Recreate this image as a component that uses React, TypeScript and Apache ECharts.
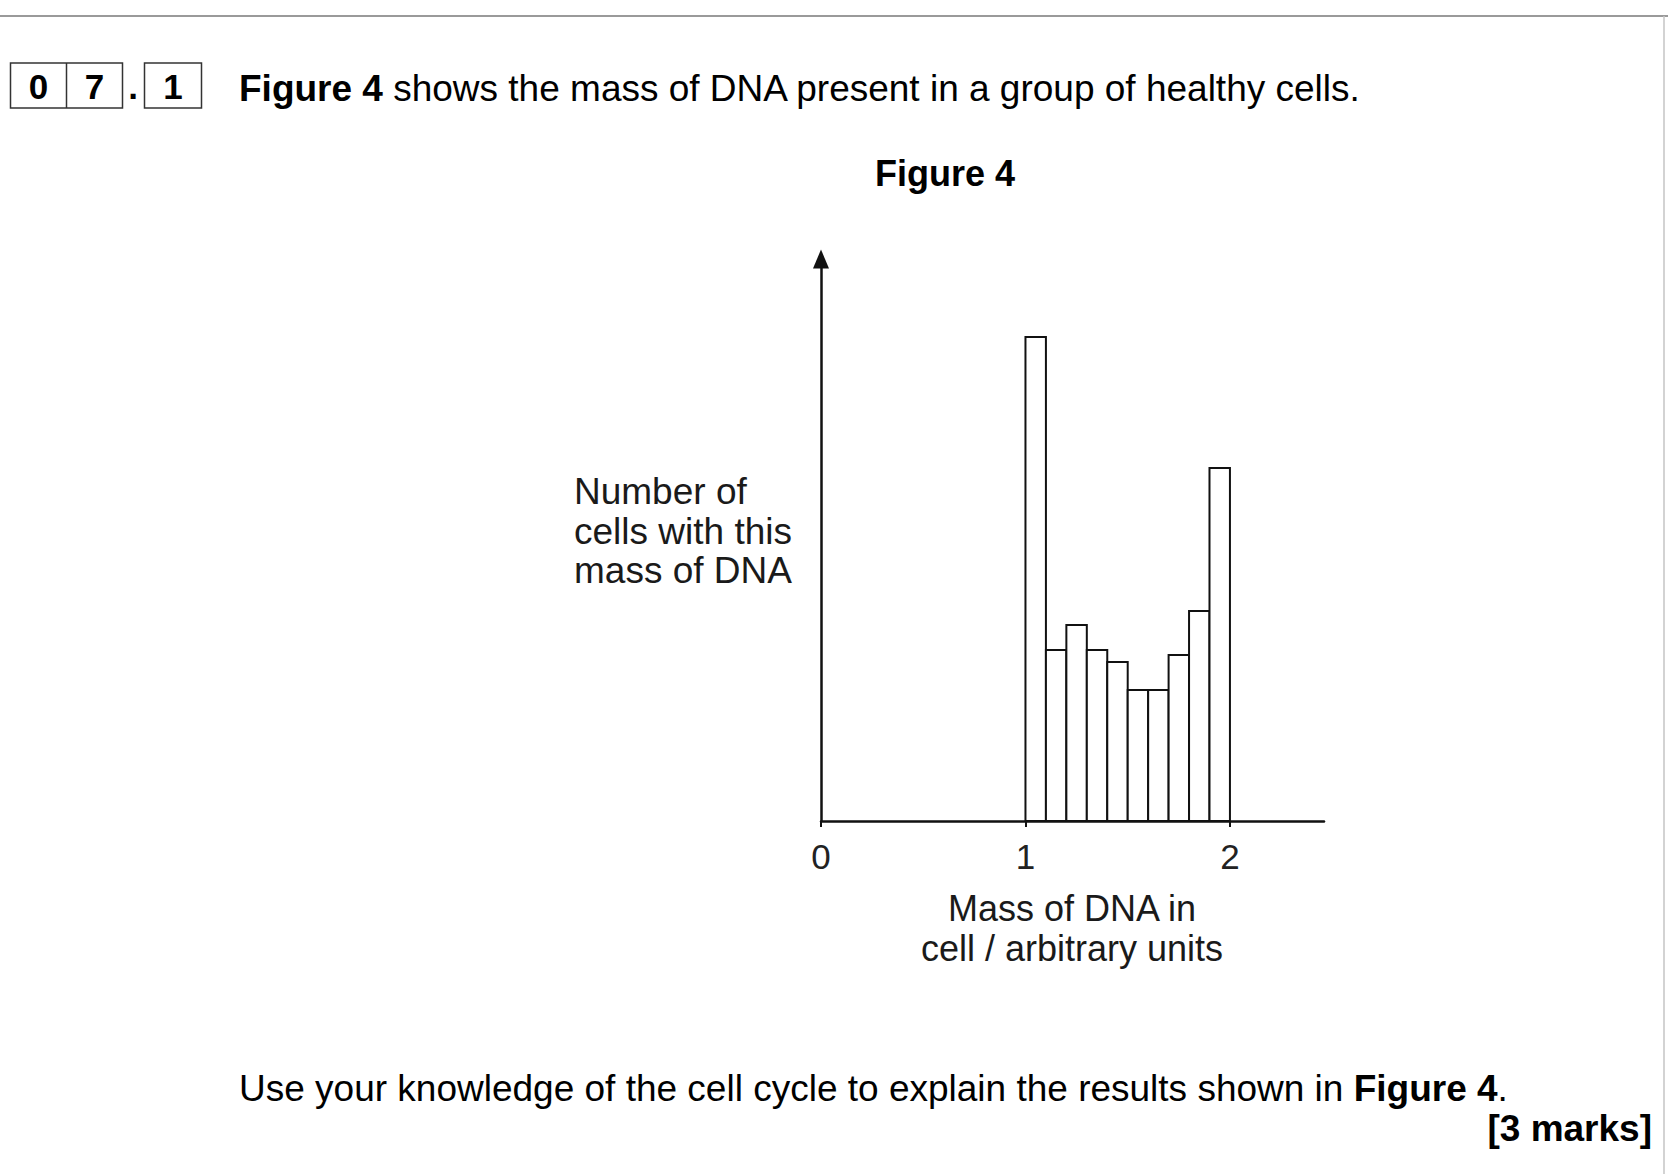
import React, { useEffect, useRef } from "react";
import * as echarts from "echarts";

// Histogram bins: start and end of each bin (mass of DNA, arbitrary units)
const binStarts = [1.0, 1.1, 1.2, 1.3, 1.4, 1.5, 1.6, 1.7, 1.8, 1.9];
const binEnds = [1.1, 1.2, 1.3, 1.4, 1.5, 1.6, 1.7, 1.8, 1.9, 2.0];
// Number of cells in each bin (arbitrary scale)
const cellCounts = [48.4, 17.1, 19.6, 17.1, 15.9, 13.1, 13.1, 16.6, 21.0, 35.3];
const xTicks = [0, 1, 2];
const xMax = 2.46;
const yMax = 56.2;

const FONT = "'Liberation Sans', Arial, Helvetica, sans-serif";

export default function App() {
  const ref = useRef<HTMLDivElement>(null);
  useEffect(() => {
    if (!ref.current) return;
    document.body.style.margin = "0";
    const chart = echarts.init(ref.current, null, { renderer: "svg" });
    const data = binStarts.map((s, i) => [s, binEnds[i], cellCounts[i]]);
    const option: any = {
      animation: false,
      backgroundColor: "#ffffff",
      grid: { left: 821, right: 1668 - 1324, top: 259, bottom: 1174 - 821, containLabel: false },
      xAxis: {
        type: "value",
        min: 0,
        max: xMax,
        splitLine: { show: false },
        axisLine: { show: true, onZero: false, lineStyle: { color: "#111", width: 2.5 } },
        axisTick: { show: true, length: 6, customValues: xTicks, lineStyle: { color: "#111", width: 2 } },
        axisLabel: {
          show: true,
          customValues: xTicks,
          margin: 18,
          fontSize: 35,
          fontFamily: FONT,
          color: "#222",
          formatter: (v: number) => String(v),
        },
      },
      yAxis: {
        type: "value",
        min: 0,
        max: yMax,
        splitLine: { show: false },
        axisTick: { show: false },
        axisLabel: { show: false },
        axisLine: {
          show: true,
          onZero: false,
          symbol: ["none", "triangle"],
          symbolSize: [16, 19],
          lineStyle: { color: "#111", width: 2.5 },
        },
      },
      series: [
        {
          type: "custom",
          data,
          encode: { x: [0, 1], y: 2 },
          renderItem: (params: any, api: any) => {
            const p0 = api.coord([api.value(0), 0]);
            const p1 = api.coord([api.value(1), api.value(2)]);
            return {
              type: "rect",
              shape: { x: p0[0], y: p1[1], width: p1[0] - p0[0], height: p0[1] - p1[1] },
              style: { fill: "#ffffff", stroke: "#111", lineWidth: 2 },
            };
          },
          z: 3,
        },
      ],
      graphic: [
        { type: "line", shape: { x1: 0, y1: 16, x2: 1668, y2: 16 }, style: { stroke: "#9a9a9a", lineWidth: 2 } },
        { type: "line", shape: { x1: 1664, y1: 16, x2: 1664, y2: 1174 }, style: { stroke: "#c4c4c4", lineWidth: 1.5 } },
        { type: "rect", shape: { x: 10.5, y: 63, width: 112, height: 45 }, style: { fill: "#fff", stroke: "#333", lineWidth: 1.5 } },
        { type: "line", shape: { x1: 66.5, y1: 63, x2: 66.5, y2: 108 }, style: { stroke: "#333", lineWidth: 1.5 } },
        { type: "rect", shape: { x: 144.5, y: 63, width: 57, height: 45 }, style: { fill: "#fff", stroke: "#333", lineWidth: 1.5 } },
        { type: "text", x: 38.5, y: 86, style: { text: "0", font: `bold 35px ${FONT}`, fill: "#000", align: "center", verticalAlign: "middle" } },
        { type: "text", x: 94.5, y: 86, style: { text: "7", font: `bold 35px ${FONT}`, fill: "#000", align: "center", verticalAlign: "middle" } },
        { type: "text", x: 133, y: 86, style: { text: ".", font: `bold 35px ${FONT}`, fill: "#000", align: "center", verticalAlign: "middle" } },
        { type: "text", x: 173, y: 86, style: { text: "1", font: `bold 35px ${FONT}`, fill: "#000", align: "center", verticalAlign: "middle" } },
        {
          type: "text",
          x: 239,
          y: 88,
          style: {
            text: "{b|Figure 4} shows the mass of DNA present in a group of healthy cells.",
            font: `37px ${FONT}`,
            fontSize: 37,
            fontFamily: FONT,
            fill: "#000",
            align: "left",
            verticalAlign: "middle",
            rich: { b: { fontWeight: "bold", fontSize: 37, fontFamily: FONT, fill: "#000" } },
          },
        },
        {
          type: "text",
          x: 945,
          y: 173,
          style: { text: "Figure 4", font: `bold 36px ${FONT}`, fill: "#000", align: "center", verticalAlign: "middle" },
        },
        {
          type: "text",
          x: 574,
          y: 472,
          style: {
            text: "Number of\ncells with this\nmass of DNA",
            font: `37px ${FONT}`,
            fontSize: 37,
            fontFamily: FONT,
            lineHeight: 39.5,
            fill: "#1a1a1a",
            align: "left",
            verticalAlign: "top",
          },
        },
        {
          type: "text",
          x: 1072,
          y: 888,
          style: {
            text: "Mass of DNA in\ncell / arbitrary units",
            font: `36px ${FONT}`,
            fontSize: 36,
            fontFamily: FONT,
            lineHeight: 40,
            fill: "#1a1a1a",
            align: "center",
            verticalAlign: "top",
          },
        },
        {
          type: "text",
          x: 239,
          y: 1088,
          style: {
            text: "Use your knowledge of the cell cycle to explain the results shown in {b|Figure 4}.",
            font: `37px ${FONT}`,
            fontSize: 37,
            fontFamily: FONT,
            fill: "#000",
            align: "left",
            verticalAlign: "middle",
            rich: { b: { fontWeight: "bold", fontSize: 37, fontFamily: FONT, fill: "#000" } },
          },
        },
        {
          type: "text",
          x: 1652,
          y: 1128,
          style: { text: "[3 marks]", font: `bold 37px ${FONT}`, fill: "#000", align: "right", verticalAlign: "middle" },
        },
      ],
    };
    chart.setOption(option);
    return () => chart.dispose();
  }, []);
  return (
    <div
      ref={ref}
      style={{ position: "absolute", left: 0, top: 0, width: 1668, height: 1174, background: "#fff" }}
    />
  );
}
